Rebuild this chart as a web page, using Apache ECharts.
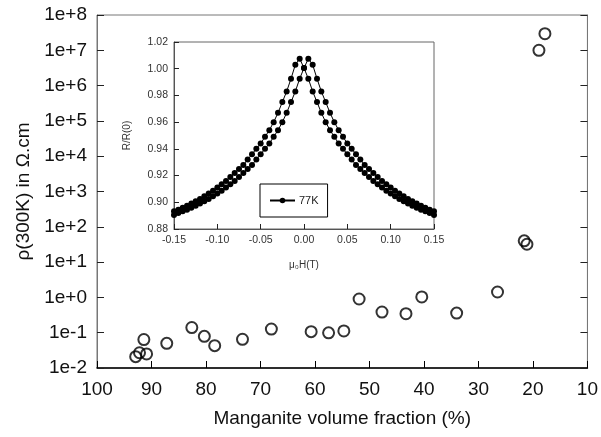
<!DOCTYPE html>
<html>
<head>
<meta charset="utf-8">
<script src="https://cdn.jsdelivr.net/npm/echarts@6/dist/echarts.min.js"></script>
<style>
  html, body { margin: 0; padding: 0; background: #fff; }
  #chart { width: 601px; height: 437px; }
</style>
</head>
<body>
<div id="chart"></div>
<script>
// main plot: resistivity vs manganite volume fraction
const fraction = [92.9, 92.2, 91.4, 90.9, 87.2, 82.6, 80.3, 78.4, 73.3, 68.0, 60.7, 57.5, 54.7,
  51.9, 47.7, 43.3, 40.4, 34.0, 26.5, 21.6, 21.1, 18.9, 17.8]
const rho = [0.021, 0.027, 0.064, 0.025, 0.050, 0.14, 0.079, 0.043, 0.065, 0.127, 0.107, 0.099, 0.112,
  0.90, 0.385, 0.345, 1.03, 0.36, 1.42, 40, 32, 1.0e7, 2.95e7]
const yTickLabels = ['1e-2', '1e-1', '1e+0', '1e+1', '1e+2', '1e+3', '1e+4', '1e+5', '1e+6', '1e+7', '1e+8']

// inset: R/R(0) vs field at 77K, two sweep directions
const field = [-0.150, -0.145, -0.140, -0.135, -0.130, -0.125, -0.120, -0.115, -0.110, -0.105,
  -0.100, -0.095, -0.090, -0.085, -0.080, -0.075, -0.070, -0.065, -0.060, -0.055,
  -0.050, -0.045, -0.040, -0.035, -0.030, -0.025, -0.020, -0.015, -0.010, -0.005,
  0.000, 0.005, 0.010, 0.015, 0.020, 0.025, 0.030, 0.035, 0.040, 0.045,
  0.050, 0.055, 0.060, 0.065, 0.070, 0.075, 0.080, 0.085, 0.090, 0.095,
  0.100, 0.105, 0.110, 0.115, 0.120, 0.125, 0.130, 0.135, 0.140, 0.145, 0.150]
const sweepDown = [0.8932, 0.8945, 0.8960, 0.8975, 0.8990, 0.9007, 0.9025, 0.9045, 0.9065, 0.9087,
  0.9110, 0.9135, 0.9160, 0.9190, 0.9220, 0.9250, 0.9280, 0.9320, 0.9360, 0.9400,
  0.9440, 0.9490, 0.9540, 0.9600, 0.9670, 0.9750, 0.9830, 0.9925, 1.0030, 1.0075,
  1.0005, 0.9925, 0.9830, 0.9750, 0.9670, 0.9600, 0.9540, 0.9490, 0.9440, 0.9400,
  0.9360, 0.9320, 0.9280, 0.9250, 0.9220, 0.9190, 0.9160, 0.9135, 0.9110, 0.9087,
  0.9065, 0.9045, 0.9025, 0.9007, 0.8990, 0.8975, 0.8960, 0.8945, 0.8932, 0.8920, 0.8905]
const sweepUp = [0.8905, 0.8920, 0.8932, 0.8945, 0.8960, 0.8975, 0.8990, 0.9007, 0.9025, 0.9045,
  0.9065, 0.9087, 0.9110, 0.9135, 0.9160, 0.9190, 0.9220, 0.9250, 0.9280, 0.9320,
  0.9360, 0.9400, 0.9440, 0.9490, 0.9540, 0.9600, 0.9670, 0.9750, 0.9830, 0.9925,
  1.0005, 1.0075, 1.0030, 0.9925, 0.9830, 0.9750, 0.9670, 0.9600, 0.9540, 0.9490,
  0.9440, 0.9400, 0.9360, 0.9320, 0.9280, 0.9250, 0.9220, 0.9190, 0.9160, 0.9135,
  0.9110, 0.9087, 0.9065, 0.9045, 0.9025, 0.9007, 0.8990, 0.8975, 0.8960, 0.8945, 0.8932]

const font = 'Liberation Sans, Arial, sans-serif'
const zip = (a, b) => a.map((v, i) => [v, b[i]])

const chart = echarts.init(document.getElementById('chart'))
chart.setOption({
  animation: false,
  textStyle: { fontFamily: font },
  grid: [
    { left: 97, top: 15, right: 13, bottom: 69, show: true, borderColor: '#777', borderWidth: 1, backgroundColor: '#fff' },
    { left: 174, top: 42, right: 167, bottom: 208, show: true, borderColor: '#666', borderWidth: 1, backgroundColor: '#fff', z: 5 },
  ],
  legend: {
    data: ['77K'],
    left: 260,
    top: 184,
    orient: 'vertical',
    borderColor: '#000',
    borderWidth: 1,
    padding: [11, 9, 11, 9],
    itemWidth: 25,
    itemHeight: 7,
    itemGap: 0,
    backgroundColor: '#fff',
    textStyle: { fontSize: 11, color: '#222', fontFamily: font, padding: [0, 0, 0, -1] },
    z: 20,
  },
  xAxis: [
    {
      gridIndex: 0,
      type: 'value',
      inverse: true,
      min: 10,
      max: 100,
      interval: 10,
      name: 'Manganite volume fraction (%)',
      nameLocation: 'middle',
      nameGap: 41,
      nameTextStyle: { fontSize: 19, color: '#111', fontFamily: font },
      axisLine: { lineStyle: { color: '#000', width: 1.5 } },
      axisTick: { inside: true, length: 7, lineStyle: { color: '#000' } },
      axisLabel: { fontSize: 19, color: '#111', margin: 12, fontFamily: font },
      splitLine: { show: false },
    },
    {
      gridIndex: 1,
      type: 'value',
      min: -0.15,
      max: 0.15,
      interval: 0.05,
      name: 'μ₀H(T)',
      nameLocation: 'middle',
      nameGap: 31,
      nameTextStyle: { fontSize: 10, color: '#333', fontFamily: font },
      axisLine: { onZero: false, lineStyle: { color: '#555' } },
      axisTick: { inside: true, length: 5, lineStyle: { color: '#222' } },
      axisLabel: { fontSize: 10.5, color: '#333', margin: 6, formatter: (v) => v.toFixed(2), fontFamily: font },
      splitLine: { show: false },
      z: 6,
    },
  ],
  yAxis: [
    {
      gridIndex: 0,
      type: 'log',
      logBase: 10,
      min: 0.01,
      max: 1e8,
      interval: 1,
      splitNumber: 10,
      name: 'ρ(300K) in Ω.cm',
      nameLocation: 'middle',
      nameGap: 63,
      nameTextStyle: { fontSize: 19, color: '#111', fontFamily: font },
      axisLine: { lineStyle: { color: '#777' } },
      axisTick: { inside: true, length: 7, lineStyle: { color: '#222' } },
      axisLabel: {
        fontSize: 19,
        color: '#111',
        margin: 10,
        fontFamily: font,
        formatter: (v) => yTickLabels[Math.round(Math.log10(v)) + 2],
      },
      splitLine: { show: false },
    },
    {
      gridIndex: 0,
      type: 'log',
      logBase: 10,
      min: 0.01,
      max: 1e8,
      interval: 1,
      splitNumber: 10,
      position: 'right',
      axisLine: { show: true, lineStyle: { color: '#777' } },
      axisTick: { show: true, inside: true, length: 7, lineStyle: { color: '#222' } },
      axisLabel: { show: false },
      splitLine: { show: false },
    },
    {
      gridIndex: 1,
      type: 'value',
      min: 0.88,
      max: 1.02,
      interval: 0.02,
      name: 'R/R(0)',
      nameLocation: 'middle',
      nameGap: 42,
      nameTextStyle: { fontSize: 10, color: '#333', fontFamily: font },
      axisLine: { onZero: false, lineStyle: { color: '#555' } },
      axisTick: { inside: true, length: 5, lineStyle: { color: '#222' } },
      axisLabel: { fontSize: 10.5, color: '#333', margin: 6, formatter: (v) => v.toFixed(2), fontFamily: font },
      splitLine: { show: false },
      z: 6,
    },
  ],
  series: [
    {
      type: 'scatter',
      xAxisIndex: 0,
      yAxisIndex: 0,
      data: zip(fraction, rho),
      symbol: 'circle',
      symbolSize: 11,
      itemStyle: { color: 'rgba(0,0,0,0)', borderColor: '#000', borderWidth: 2 },
    },
    {
      name: '77K',
      type: 'line',
      xAxisIndex: 1,
      yAxisIndex: 2,
      data: zip(field, sweepDown),
      symbol: 'circle',
      symbolSize: 6,
      lineStyle: { color: '#000', width: 1 },
      itemStyle: { color: '#000' },
      z: 10,
    },
    {
      name: '77K',
      type: 'line',
      xAxisIndex: 1,
      yAxisIndex: 2,
      data: zip(field, sweepUp),
      symbol: 'circle',
      symbolSize: 6,
      lineStyle: { color: '#000', width: 1 },
      itemStyle: { color: '#000' },
      z: 10,
    },
  ],
})
</script>
</body>
</html>
